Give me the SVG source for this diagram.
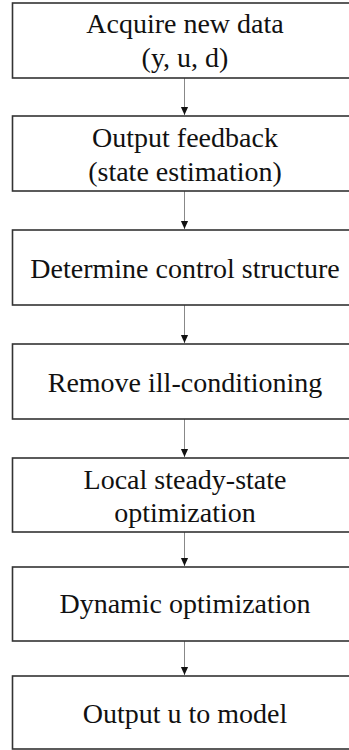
<svg xmlns="http://www.w3.org/2000/svg" width="349" height="750" viewBox="0 0 349 750">
<style>
.box{fill:#fff;stroke:#333;stroke-width:1.6}
.t{font-family:"Liberation Serif","Times New Roman",serif;font-size:28px;fill:#111;text-anchor:middle}
.c{stroke:#888;stroke-width:1;fill:none;marker-end:url(#ah)}
</style>
<defs>
<marker id="ah" markerWidth="8" markerHeight="9" refX="9" refY="4" orient="auto" markerUnits="userSpaceOnUse" viewBox="0 0 9 8">
<path d="M0,0 L9,4 L0,8 Z" fill="#111"/>
</marker>
</defs>
<rect width="349" height="750" fill="#fff"/>
<g id="connectors">
<line class="c" x1="184.5" y1="78" x2="184.5" y2="115"/>
<line class="c" x1="184.5" y1="191" x2="184.5" y2="229"/>
<line class="c" x1="184.5" y1="305" x2="184.5" y2="343"/>
<line class="c" x1="184.5" y1="419" x2="184.5" y2="457"/>
<line class="c" x1="184.5" y1="532" x2="184.5" y2="566"/>
<line class="c" x1="184.5" y1="641" x2="184.5" y2="675"/>
</g>
<g id="n1"><rect class="box" x="12.5" y="3" width="345" height="75"/>
<text class="t" x="185" y="33">Acquire new data</text><text class="t" x="185" y="67">(y, u, d)</text></g>
<g id="n2"><rect class="box" x="12.5" y="116" width="345" height="75"/>
<text class="t" x="185" y="147">Output feedback</text><text class="t" x="185" y="181">(state estimation)</text></g>
<g id="n3"><rect class="box" x="12.5" y="230" width="345" height="75"/>
<text class="t" x="185" y="278">Determine control structure</text></g>
<g id="n4"><rect class="box" x="12.5" y="344" width="345" height="75"/>
<text class="t" x="185" y="392">Remove ill-conditioning</text></g>
<g id="n5"><rect class="box" x="12.5" y="458" width="345" height="74"/>
<text class="t" x="185" y="489">Local steady-state</text><text class="t" x="185" y="522">optimization</text></g>
<g id="n6"><rect class="box" x="12.5" y="567" width="345" height="74"/>
<text class="t" x="185" y="613">Dynamic optimization</text></g>
<g id="n7"><rect class="box" x="12.5" y="676" width="345" height="73"/>
<text class="t" x="185" y="723">Output u to model</text></g>
</svg>
